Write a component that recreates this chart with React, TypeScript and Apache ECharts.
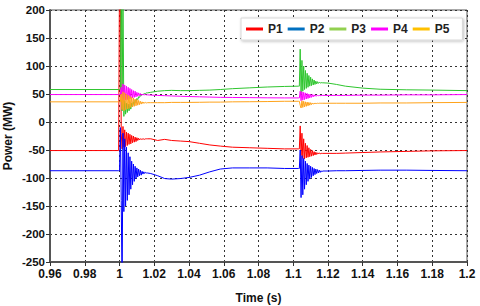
import React, { useEffect, useRef } from "react";
import * as echarts from "echarts";

// Shared time grids (s)
const T_PRE = [0.96, 0.9995];
const T_W1 = [
  1.0, 1.0005, 1.001, 1.0015, 1.002, 1.0025, 1.003, 1.0035, 1.004, 1.0045, 1.005,
  1.0055, 1.006, 1.0065, 1.007, 1.0075, 1.008, 1.0085, 1.009, 1.0095, 1.01, 1.0105,
  1.011, 1.0115, 1.012, 1.0125, 1.013, 1.0135, 1.014, 1.0145, 1.015, 1.0155, 1.016,
];
const T_MID = [1.018, 1.022, 1.026, 1.03, 1.035, 1.04, 1.046, 1.052, 1.058, 1.065, 1.075, 1.085, 1.095, 1.103];
const T_W2 = [
  1.1035, 1.104, 1.1045, 1.105, 1.1055, 1.106, 1.1065, 1.107, 1.1075, 1.108, 1.1085,
  1.109, 1.1095, 1.11, 1.1105, 1.111, 1.1115, 1.112, 1.1125, 1.113, 1.1135, 1.114,
  1.1145, 1.115, 1.1155, 1.116, 1.1165, 1.117,
];
const T_POST = [1.12, 1.125, 1.13, 1.14, 1.15, 1.165, 1.18, 1.2];

// P1
const P1_PRE = -51;
const P1_W1 = [260, 240, -20, -48, -8, -45, -14, -44, -18, -42, -20, -40, -22, -39, -24, -37, -25, -36, -27, -35, -28, -33, -29, -32, -30, -31, -30, -31, -30, -31, -30, -30, -30];
const P1_MID = [-30, -33, -31, -33, -34, -35, -38, -41, -43, -45, -46, -47, -48, -48];
const P1_W2 = [-48, -7, -60, -20, -65, -30, -66, -38, -64, -42, -63, -46, -62, -49, -61, -51, -60, -53, -59, -54, -58, -55, -57, -55, -57, -56, -56, -56];
const P1_POST = [-56, -56, -55.5, -54.5, -53.5, -52.5, -51.5, -51];

// P2
const P2_PRE = -87;
const P2_W1 = [-87, -10, -140, -300, -20, -160, -30, -150, -45, -140, -55, -130, -62, -120, -70, -112, -75, -106, -79, -101, -82, -98, -84, -96, -86, -95, -88, -93, -89, -92, -90, -91, -91];
const P2_MID = [-92, -96, -101, -102, -101, -99, -95, -89, -84, -82, -82, -82, -83, -83];
const P2_W2 = [-83, -50, -135, -60, -130, -65, -120, -70, -112, -74, -106, -77, -102, -79, -99, -81, -96, -83, -94, -84, -92, -85, -91, -86, -90, -87, -89, -87.5];
const P2_POST = [-87.5, -87, -87, -86.5, -86, -86, -86.5, -87];

// P3
const P3_PRE = 58;
const P3_W1 = [58, 58, 280, 20, 240, 10, 38, 14, 34, 17, 32, 20, 32, 23, 34, 27, 36, 31, 39, 35, 42, 40, 45, 44, 47, 47, 49, 49, 50, 51, 51, 52, 52];
const P3_MID = [53, 55, 56, 56.5, 56, 56, 56.5, 57, 58, 59.5, 61, 62.5, 63.5, 64];
const P3_W2 = [64, 130, 50, 110, 55, 100, 58, 92, 60, 87, 62, 83, 64, 80, 65, 77, 66, 75, 67, 73, 68, 72, 69, 71, 69.5, 70.5, 70, 70];
const P3_POST = [69.5, 67, 64, 60.5, 58.5, 57.5, 57, 56];

// P4
const P4_PRE = 49;
const P4_W1 = [49, 49, 62, 40, 68, 38, 66, 39, 64, 40, 62, 41, 60, 42, 58, 43, 56, 44, 55, 45, 53, 46, 52, 47, 51, 47.5, 50, 48, 49.5, 48.5, 49, 48.5, 48.5];
const P4_MID = [48, 47.5, 47, 46.5, 46, 45.5, 45, 44.5, 44, 43.8, 43.5, 43.2, 43, 43];
const P4_W2 = [43, 55, 38, 54, 39, 53, 40, 52, 41, 51, 42, 50, 43, 49.5, 44, 49, 45, 48.5, 46, 48, 46.5, 47.5, 47, 47.5, 47, 47.5, 47.5, 47.5];
const P4_POST = [47.5, 47.5, 47.5, 48, 48, 48.5, 48.5, 49];

// P5
const P5_PRE = 36;
const P5_W1 = [36, 36, 50, 22, 54, 20, 52, 22, 50, 23, 48, 24, 46, 26, 44, 27, 43, 28, 41, 29, 40, 30, 38.5, 31, 37, 32, 36, 33, 35.5, 33.5, 35, 34, 34.5];
const P5_MID = [34.5, 34.5, 34.5, 35, 35, 35, 35.2, 35.5, 35.5, 36, 36.2, 36.5, 37, 37];
const P5_W2 = [37, 30, 25, 38, 26, 37, 27, 36, 28, 35.5, 29, 35, 30, 34.5, 31, 34, 32, 33.5, 32.5, 33.5, 33, 33.5, 33.2, 33.5, 33.5, 33.5, 33.5, 33.5];
const P5_POST = [33.5, 33.5, 33.5, 33.5, 34, 34, 34.5, 35];

const NAMES = ["P1", "P2", "P3", "P4", "P5"];
const LINE_COLORS = ["#ff0000", "#0000ff", "#2ec52e", "#ff00ff", "#ffa31a"];
const LEGEND_COLORS = ["#ff0000", "#0070c0", "#92d050", "#ff00ff", "#ffc000"];

const zip = (t: number[], v: number[]) => v.map((y, i) => [t[i], y]);

const build = (pre: number, w1: number[], mid: number[], w2: number[], post: number[]) => [
  ...T_PRE.map((t) => [t, pre]),
  ...zip(T_W1, w1),
  ...zip(T_MID, mid),
  ...zip(T_W2, w2),
  ...zip(T_POST, post),
];

const SERIES_DATA = [
  build(P1_PRE, P1_W1, P1_MID, P1_W2, P1_POST),
  build(P2_PRE, P2_W1, P2_MID, P2_W2, P2_POST),
  build(P3_PRE, P3_W1, P3_MID, P3_W2, P3_POST),
  build(P4_PRE, P4_W1, P4_MID, P4_W2, P4_POST),
  build(P5_PRE, P5_W1, P5_MID, P5_W2, P5_POST),
];

const FONT = "'Liberation Sans', Arial, sans-serif";

export default function App() {
  const ref = useRef<HTMLDivElement>(null);
  useEffect(() => {
    if (!ref.current) return;
    const chart = echarts.init(ref.current, undefined, { renderer: "svg" });
    const gridLine = { show: true, lineStyle: { type: [2, 3] as any, color: "#333", width: 1 } };
    chart.setOption({
      animation: false,
      backgroundColor: "#ffffff",
      textStyle: { fontFamily: FONT },
      grid: {
        left: 50,
        right: 13,
        top: 10,
        bottom: 44,
        show: true,
        borderColor: "#555",
        borderWidth: 1,
        containLabel: false,
        outerBoundsMode: "none",
      },
      legend: {
        data: NAMES.map((n, i) => ({
          name: n,
          itemStyle: { color: LEGEND_COLORS[i] },
        })),
        icon: "rect",
        itemWidth: 17,
        itemHeight: 3,
        itemGap: 5,
        left: 241,
        top: 18,
        padding: [5, 13, 5, 5],
        backgroundColor: "#ffffff",
        borderColor: "#d8d8d8",
        borderWidth: 1,
        shadowBlur: 3,
        shadowColor: "rgba(0,0,0,0.25)",
        shadowOffsetX: 1,
        shadowOffsetY: 1,
        textStyle: { fontFamily: FONT, fontWeight: "bold", fontSize: 12, color: "#222" },
      },
      xAxis: {
        type: "value",
        min: 0.96,
        max: 1.2,
        interval: 0.02,
        name: "Time (s)",
        nameLocation: "middle",
        nameGap: 30,
        nameTextStyle: { fontFamily: FONT, fontWeight: "bold", fontSize: 12, color: "#111" },
        axisLine: { show: true, onZero: false, lineStyle: { color: "#555", width: 2 } },
        axisTick: { show: true, length: 4, lineStyle: { color: "#333" } },
        axisLabel: { fontFamily: FONT, fontWeight: "bold", fontSize: 12, color: "#111", margin: 6 },
        splitLine: gridLine,
      },
      yAxis: {
        type: "value",
        min: -250,
        max: 200,
        interval: 50,
        name: "Power (MW)",
        nameLocation: "middle",
        nameGap: 36,
        nameRotate: 90,
        nameMoveOverlap: false,
        nameTextStyle: { fontFamily: FONT, fontWeight: "bold", fontSize: 12, color: "#111" },
        axisLine: { show: true, lineStyle: { color: "#555", width: 2 } },
        axisTick: { show: true, length: 4, lineStyle: { color: "#333" } },
        axisLabel: { fontFamily: FONT, fontWeight: "bold", fontSize: 11.5, color: "#111", margin: 5 },
        splitLine: gridLine,
      },
      series: NAMES.map((n, i) => ({
        name: n,
        type: "line",
        data: SERIES_DATA[i],
        showSymbol: false,
        symbol: "none",
        clip: true,
        color: LINE_COLORS[i],
        lineStyle: { color: LINE_COLORS[i], width: 1 },
        z: 2 + i,
      })),
    });
    return () => chart.dispose();
  }, []);
  return (
    <div
      ref={ref}
      style={{ position: "fixed", left: 0, top: 0, width: 480, height: 306 }}
    />
  );
}
